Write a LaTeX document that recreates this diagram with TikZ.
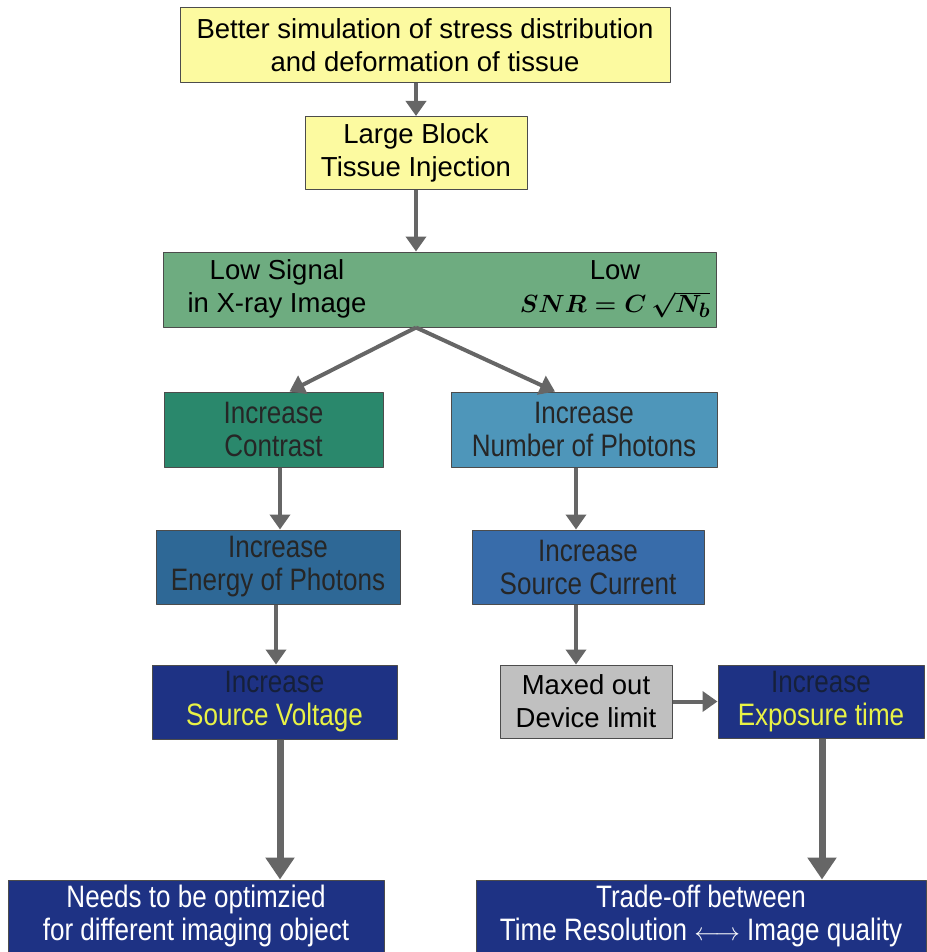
\documentclass[tikz,border=0pt]{standalone}
\usepackage{fontspec}
\setmainfont{Liberation Sans}
\newfontfamily\narrowfont[FakeStretch=0.84]{Liberation Sans}
\usetikzlibrary{arrows.meta}
\definecolor{boxyellow}{RGB}{252,250,160}
\definecolor{boxgreen}{RGB}{110,172,128}
\definecolor{boxteal}{RGB}{42,136,108}
\definecolor{boxsky}{RGB}{78,150,186}
\definecolor{boxsteel}{RGB}{46,104,150}
\definecolor{boxblue}{RGB}{56,108,170}
\definecolor{boxnavy}{RGB}{30,50,132}
\definecolor{boxgray}{RGB}{192,192,192}
\definecolor{hilite}{RGB}{232,242,70}
\definecolor{darktext}{RGB}{22,32,58}
\begin{document}
\begin{tikzpicture}[x=1pt,y=-1pt,line join=round,
    >={Triangle[width=20pt,length=15pt]},
    box/.style={draw=black!70,line width=1pt,align=center,inner sep=0pt,
      font=\fontsize{27.5}{33}\selectfont},
    narrowbox/.style={box,text=black!85,font=\narrowfont\fontsize{31}{33}\selectfont},
    link/.style={->,draw=black!60,line width=4pt},
    biglink/.style={-{Triangle[width=28pt,length=22pt]},draw=black!60,line width=7pt}]
  \useasboundingbox (0,0) rectangle (926,952);
  \node[box,fill=boxyellow,minimum width=490pt,minimum height=75pt] (better) at (425,45)
    {Better simulation of stress distribution\\and deformation of tissue};
  \node[box,fill=boxyellow,minimum width=222pt,minimum height=73pt] (block) at (416,153)
    {Large Block\\Tissue Injection};
  \node[box,fill=boxgreen,minimum width=553pt,minimum height=75pt] (low) at (439.5,289.5) {};
  \node[font=\fontsize{27.5}{33}\selectfont,align=center] (signal) at (277,289)
    {Low Signal\\in X-ray Image};
  \node[font=\fontsize{27.5}{33}\selectfont,align=center] (snr) at (615,289)
    {Low\\{\boldmath$SNR = C\,\sqrt{N_b}$}};
  \node[narrowbox,fill=boxteal,minimum width=219pt,minimum height=75pt] (contrast) at (273.5,429.5)
    {Increase\\Contrast};
  \node[narrowbox,fill=boxsky,minimum width=266pt,minimum height=75pt] (photons) at (584,429.5)
    {Increase\\Number of Photons};
  \node[narrowbox,fill=boxsteel,minimum width=244pt,minimum height=74pt] (energy) at (278,567)
    {Increase\\Energy of Photons};
  \node[narrowbox,fill=boxblue,minimum width=232pt,minimum height=74pt] (current) at (588,567)
    {Increase\\Source Current};
  \node[narrowbox,fill=boxnavy,text=darktext,minimum width=245pt,minimum height=74pt] (voltage) at (274.5,702)
    {Increase\\\textcolor{hilite}{Source Voltage}};
  \node[box,fill=boxgray,minimum width=172pt,minimum height=73pt] (maxed) at (586,701.5)
    {Maxed out\\Device limit};
  \node[narrowbox,fill=boxnavy,text=darktext,minimum width=206pt,minimum height=73pt] (exposure) at (821,701.5)
    {Increase\\\textcolor{hilite}{Exposure time}};
  \node[narrowbox,fill=boxnavy,text=white,minimum width=376pt,minimum height=72pt] (needs) at (196,916)
    {Needs to be optimzied\\for different imaging object};
  \node[narrowbox,fill=boxnavy,text=white,minimum width=450pt,minimum height=72pt] (trade) at (701,916)
    {Trade-off between\\Time Resolution ${\longleftrightarrow}$ Image quality};
  \coordinate (split) at (block.south |- low.south);
  % connectors
  \draw[link] (better.south -| block.north) -- (block.north);
  \draw[link] (block.south) -- (block.south |- low.north);
  \draw[link] (split) -- ([xshift=16pt]contrast.north);
  \draw[link] (split) -- ([xshift=-29pt]photons.north);
  \draw[link] (contrast.south -| 280,0) -- (energy.north -| 280,0);
  \draw[link] (photons.south -| 576,0) -- (current.north -| 576,0);
  \draw[link] (energy.south -| 276,0) -- (voltage.north -| 276,0);
  \draw[link] (current.south -| 576,0) -- (maxed.north -| 576,0);
  \draw[link] (maxed) -- (exposure);
  \draw[biglink] (voltage.south -| 280,0) -- (needs.north -| 280,0);
  \draw[biglink] (exposure.south -| 822,0) -- (trade.north -| 822,0);
\end{tikzpicture}
\end{document}
